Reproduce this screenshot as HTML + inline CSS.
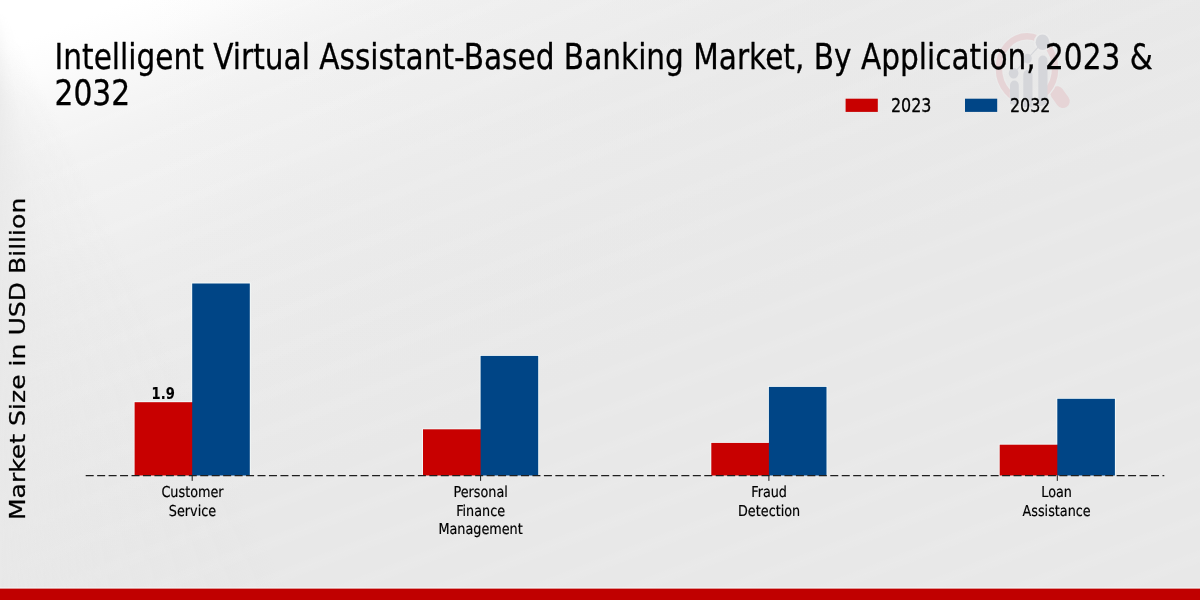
<!DOCTYPE html>
<html lang="en">
<head>
<meta charset="utf-8">
<title>Intelligent Virtual Assistant-Based Banking Market, By Application, 2023 &amp; 2032</title>
<style>
html,body{margin:0;padding:0;}
body{width:1200px;height:600px;overflow:hidden;background:#e8e8e8;}
#chart{position:relative;width:1200px;height:600px;overflow:hidden;background-color:#e8e8e8;
background-image:
 repeating-linear-gradient(158.7deg, rgba(255,255,255,0) 0px, rgba(255,255,255,0.07) 9px, rgba(255,255,255,0) 18px, rgba(255,255,255,0) 35px),
 linear-gradient(to right, rgba(232,232,232,0) 150px, rgba(232,232,232,0.6) 850px, rgba(232,232,232,0.6) 1200px),
 linear-gradient(158.7deg, #ffffff 0px, #ffffff 47px, #fcfcfc 84px, #f8f8f8 112px, #f5f5f5 140px, #f2f2f2 177px, #f1f1f1 205px, #f0f0f0 242px, #ededed 289px, #ececec 326px, #eaeaea 419px, #e8e8e8 559px);
background-repeat:no-repeat;}
#edge{position:absolute;left:0;top:0;width:300px;height:600px;
background-image:conic-gradient(from 90deg at 0px 0px, rgba(232,232,232,0) 0deg, rgba(232,232,232,0) 64deg, rgba(232,232,232,0.3) 80deg, rgba(232,232,232,0.8) 90deg, rgba(232,232,232,0) 90.1deg);
-webkit-mask-image:linear-gradient(to bottom, rgba(0,0,0,0) 12px, rgba(0,0,0,1) 95px);
mask-image:linear-gradient(to bottom, rgba(0,0,0,0) 12px, rgba(0,0,0,1) 95px);}
svg{position:absolute;left:0;top:0;display:block;font-family:"DejaVu Sans","Liberation Sans",sans-serif;}
text{fill:#000;stroke:#000;stroke-width:0.3px;stroke-linejoin:round;}
.tl text{stroke-width:0.2px;text-rendering:geometricPrecision;}
</style>
</head>
<body>
<div id="chart">
<div id="edge"></div>
<svg width="1200" height="600" viewBox="0 0 1200 600">
  <defs>
    <clipPath id="ringClip"><path d="M980,20 H1100 V130 H1046.8 V92 H1009.8 V130 H980 Z"/></clipPath>
  </defs>
  <g id="watermark">
    <line x1="1057" y1="93" x2="1062.9" y2="101.3" stroke="#e6d4d6" stroke-width="13.6" stroke-linecap="round"/>
    <ellipse cx="1027" cy="68.5" rx="28.1" ry="32.3" fill="none" stroke="#ebebeb" stroke-width="9" clip-path="url(#ringClip)"/>
    <ellipse cx="1027" cy="68.5" rx="28.1" ry="32.3" fill="none" stroke="#e6d4d6" stroke-width="6.4" clip-path="url(#ringClip)"/>
    <ellipse cx="1042.5" cy="42.3" rx="8.6" ry="9.6" fill="#ececec"/>
    <g fill="#d5d6da">
      <path d="M1010,104 V85.3 a4.4,4.8 0 0 1 8.8,0 V106 Z"/>
      <path d="M1023.3,107 V74.8 a4.6,5 0 0 1 9.2,0 V107.3 Z"/>
      <path d="M1038.3,106.5 V60.5 a4.6,5 0 0 1 9.2,0 V104.5 Z"/>
      <ellipse cx="1013.6" cy="73.2" rx="4.8" ry="5.4"/>
      <ellipse cx="1027.6" cy="58.6" rx="4.2" ry="4.8"/>
      <ellipse cx="1042.5" cy="42.3" rx="6.8" ry="7.7"/>
    </g>
    <polyline points="1013.6,73.2 1027.6,58.6 1042.5,42.3" fill="none" stroke="#d5d6da" stroke-width="1.1"/>
  </g>
  <g fill="#000">
    <text transform="translate(54.6,68.7) scale(0.8527,1)" font-size="34.7" text-anchor="start">Intelligent Virtual Assistant-Based Banking Market, By Application, 2023 &amp;</text>
    <text transform="translate(54.5,104.7) scale(0.857,1)" font-size="34.7" text-anchor="start">2032</text>
  </g>
  <rect x="845.6" y="98.7" width="32.2" height="13.2" fill="#c80000"/>
  <text transform="translate(890.9,112.1) scale(0.83,1)" font-size="19.2" text-anchor="start">2023</text>
  <rect x="965" y="98.7" width="32.2" height="13.2" fill="#004586"/>
  <text transform="translate(1009.9,112.1) scale(0.83,1)" font-size="19.2" text-anchor="start">2032</text>
  <text transform="translate(24.6,358.9) rotate(-90) scale(1,0.857)" font-size="25.1" text-anchor="middle">Market Size in USD Billion</text>
  <g fill="#f3f9f9">
    <path d="M133.7,475.5 V401.3 H191.3 V282.6 H250.7 V475.5 Z"/>
    <path d="M422.1,475.5 V428.4 H479.7 V355.0 H539.1 V475.5 Z"/>
    <path d="M710.4,475.5 V442.0 H768.0 V386.0 H827.4 V475.5 Z"/>
    <path d="M998.8,475.5 V443.8 H1056.4 V397.9 H1115.8 V475.5 Z"/>
  </g>
  <g fill="#c80000">
    <rect x="134.6" y="402.2" width="58.4" height="73.3"/>
    <rect x="423.0" y="429.3" width="58.4" height="46.2"/>
    <rect x="711.3" y="442.9" width="58.4" height="32.6"/>
    <rect x="999.7" y="444.7" width="58.4" height="30.8"/>
  </g>
  <g fill="#004586">
    <rect x="192.2" y="283.5" width="57.6" height="192.0"/>
    <rect x="480.6" y="355.9" width="57.6" height="119.6"/>
    <rect x="768.9" y="386.9" width="57.6" height="88.6"/>
    <rect x="1057.3" y="398.8" width="57.6" height="76.7"/>
  </g>
  <line x1="85.7" y1="475.5" x2="1164.3" y2="475.5" stroke="#1f1f1f" stroke-width="1.25" stroke-dasharray="8 3.455"/>
  <g stroke="#1a1a1a" stroke-width="1">
    <line x1="192.2" y1="475.5" x2="192.2" y2="480.9"/>
    <line x1="480.6" y1="475.5" x2="480.6" y2="480.9"/>
    <line x1="768.9" y1="475.5" x2="768.9" y2="480.9"/>
    <line x1="1057.3" y1="475.5" x2="1057.3" y2="480.9"/>
  </g>
  <text transform="translate(163.15,399.1) scale(0.857,1)" font-size="15.3" text-anchor="middle" font-weight="bold" style="stroke-width:0.1px">1.9</text>
  <g class="tl">
    <text transform="translate(192.5,497.15) scale(0.853,1)" font-size="15.0" text-anchor="middle">Customer</text>
    <text transform="translate(192.5,516.2) scale(0.853,1)" font-size="15.0" text-anchor="middle">Service</text>
    <text transform="translate(480.6,497.15) scale(0.853,1)" font-size="15.0" text-anchor="middle">Personal</text>
    <text transform="translate(480.6,516.2) scale(0.853,1)" font-size="15.0" text-anchor="middle">Finance</text>
    <text transform="translate(480.6,534.3) scale(0.853,1)" font-size="15.0" text-anchor="middle">Management</text>
    <text transform="translate(769.1,497.15) scale(0.853,1)" font-size="15.0" text-anchor="middle">Fraud</text>
    <text transform="translate(769.1,516.2) scale(0.853,1)" font-size="15.0" text-anchor="middle">Detection</text>
    <text transform="translate(1056.6,497.15) scale(0.853,1)" font-size="15.0" text-anchor="middle">Loan</text>
    <text transform="translate(1056.6,516.2) scale(0.853,1)" font-size="15.0" text-anchor="middle">Assistance</text>
  </g>
  <rect x="0" y="587.6" width="1200" height="1.2" fill="#f8fcfc"/>
  <rect x="0" y="588.6" width="1200" height="11.4" fill="#c00000"/>
</svg>
</div>
</body>
</html>
